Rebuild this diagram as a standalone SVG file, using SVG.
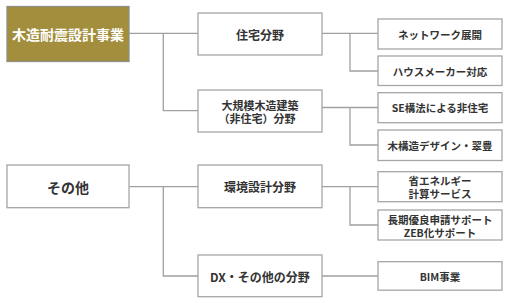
<svg xmlns="http://www.w3.org/2000/svg" width="508" height="303" viewBox="0 0 508 303">
<style>
.bx{fill:#fff;stroke:#a6a6a6;stroke-width:1.3}
.main{fill:#a28e3c;stroke:#8f8f88;stroke-width:1.3}
.t{font-family:"Noto Sans CJK JP","Noto Sans",sans-serif;font-weight:bold;fill:#333;text-anchor:middle;dominant-baseline:central}
.w{fill:#fff}
.l1{font-size:14px}
.l2{font-size:12px}
.l2s{font-size:11px}
.l3{font-size:10.5px}
.cn{fill:none;stroke:#a0a0a0;stroke-width:1.3}
</style>
<rect width="508" height="303" fill="#fff"/>
<g id="connectors">
<path class="cn" d="M129 33.3H198M163.3 33.3V110.7H198"/>
<path class="cn" d="M322 33.3H378M350 33.3V71H378"/>
<path class="cn" d="M322 107.5H378M350 107.5V145H378"/>
<path class="cn" d="M129 186.7H198M163.3 186.7V276H198"/>
<path class="cn" d="M322 186.7H378M350 186.7V225H378"/>
<path class="cn" d="M322 276H378"/>
</g>
<g id="n-mokuzo">
<rect class="main" x="7" y="6.5" width="122" height="55"/>
<text class="t w l1" x="68" y="34">木造耐震設計事業</text>
</g>
<g id="n-jutaku">
<rect class="bx" x="198" y="13" width="124" height="42"/>
<text class="t l2" x="260" y="34">住宅分野</text>
</g>
<g id="n-daikibo">
<rect class="bx" x="198" y="90" width="124" height="42"/>
<text class="t l2s" x="260" y="105">大規模木造建築<tspan x="257" dy="12.5">（非住宅）分野</tspan></text>
</g>
<g id="n-network">
<rect class="bx" x="378" y="19" width="124" height="30"/>
<text class="t l3" x="440" y="34">ネットワーク展開</text>
</g>
<g id="n-house">
<rect class="bx" x="378" y="56" width="124" height="29.5"/>
<text class="t l3" x="440" y="71">ハウスメーカー対応</text>
</g>
<g id="n-se">
<rect class="bx" x="378" y="92.7" width="124" height="30"/>
<text class="t l3" x="440" y="107.7">SE構法による非住宅</text>
</g>
<g id="n-design">
<rect class="bx" x="378" y="130" width="124" height="30.5"/>
<text class="t l3" x="440" y="145.3">木構造デザイン・翠豊</text>
</g>
<g id="n-sonota">
<rect class="bx" x="7" y="165" width="122" height="42.7"/>
<text class="t l1" x="68" y="186.5">その他</text>
</g>
<g id="n-kankyo">
<rect class="bx" x="198" y="165" width="124" height="42.7"/>
<text class="t l2" x="260" y="186.5">環境設計分野</text>
</g>
<g id="n-dx">
<rect class="bx" x="198" y="255" width="124" height="41.7"/>
<text class="t l2" x="260" y="276">DX・その他の分野</text>
</g>
<g id="n-shoene">
<rect class="bx" x="378" y="171.7" width="124" height="30"/>
<text class="t l3" x="440" y="180.3">省エネルギー<tspan x="440" dy="12.7">計算サービス</tspan></text>
</g>
<g id="n-choki">
<rect class="bx" x="378" y="210" width="124" height="30"/>
<text class="t l3" x="440" y="219">長期優良申請サポート<tspan x="440" dy="12.5">ZEB化サポート</tspan></text>
</g>
<g id="n-bim">
<rect class="bx" x="378" y="261.7" width="124" height="28.5"/>
<text class="t l3" x="440" y="276">BIM事業</text>
</g>
</svg>
